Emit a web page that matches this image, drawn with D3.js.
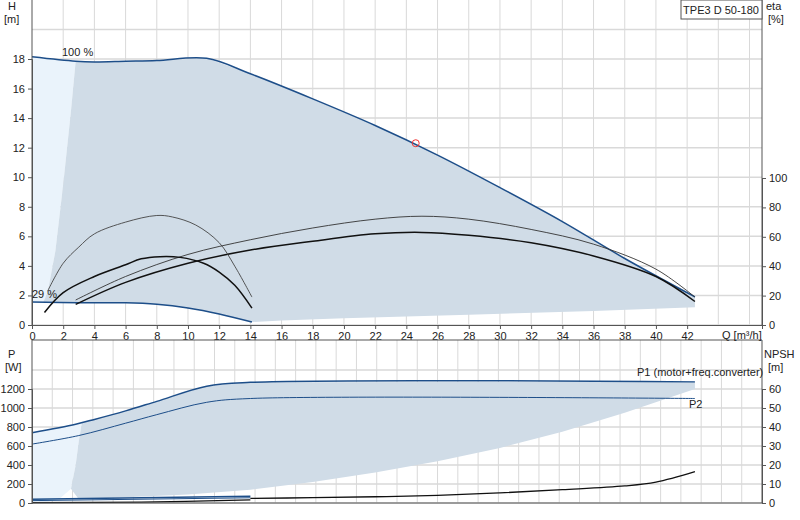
<!DOCTYPE html>
<html><head><meta charset="utf-8">
<script src="https://cdn.jsdelivr.net/npm/d3@7"></script>
<style>body{margin:0;background:#fff}text{font-family:"Liberation Sans",Arial,sans-serif;font-size:11px;fill:#222}</style>
</head><body><div id="chart"></div>
<script>
// head curves [Q, H]
var h100 = [[0,18.15],[2.8,17.85],[4,17.8],[6,17.85],[8,17.9],[11.2,18.05],[14,17],[18,15.3],[22,13.5],[26,11.5],[30,9.3],[34,7],[38,4.5],[42.5,1.9]];
var h29 = [[0,1.55],[3,1.5],[6,1.5],[8,1.4],[10,1.15],[12,0.75],[14.1,0.2]];
var hLower = [[42.5,1.2],[36,0.95],[28,0.7],[20,0.45],[16,0.3],[14.1,0.2]];
var hLeft = [[0.7,1.5],[1,2.2],[1.5,5],[2,9.5],[2.5,14.5],[2.8,17.85]];
var hLight = [[0,18.15],[2.8,17.85],[2.5,14.5],[2,9.5],[1.5,5],[1,2.2],[0.7,1.5],[0,1.55]];
// efficiency curves [Q, eta %]
var etaThin = [[2.8,17],[6,33],[10,48],[14,58],[18,66],[22,72],[25,74],[28,72],[32,65],[36,55],[40,38],[42.5,19]];
var etaThick = [[2.8,14],[6,29],[10,42],[14,51],[18,57],[22,62],[25,63],[28,61],[32,56],[36,47],[40,33],[42.5,16]];
var arcThin = [[1,23],[2,42],[3,53],[4,62],[6,70],[8,74.5],[9,73.5],[10.5,68],[12,56],[13,40],[14.1,19]];
var arcThick = [[0.8,8.5],[2,22],[4,33],[6,41],[7,45],[8.2,46.5],[9.5,46],[11,42],[12,36],[13,27],[14.1,11.5]];
var dutyPoint = [24.6, 12.3];
// power curves [Q, P W]
var p1 = [[0,740],[2.8,830],[4,880],[6,970],[8,1070],[11.2,1230],[14,1270],[42.5,1275]];
var p2 = [[0,620],[3,710],[6,840],[8,930],[11.2,1060],[14,1100],[42.5,1100]];
var p1low = [[0,40],[14,70]];
var p2low = [[0,25],[14,55]];
var pShadeLow = [[42.5,1200],[38,950],[34,750],[30,580],[26,440],[22,320],[18,220],[14,140],[10,90],[6,60],[3,40],[2.5,150],[2.8,400],[3,650],[3.2,845]];
var pLight = [[0,740],[2.8,830],[3.2,845],[3,650],[2.8,400],[2.5,150],[1.8,50],[1,10],[0,0]];
// NPSH [Q, m]
var npsh = [[14,2.4],[18,2.8],[22,3.3],[26,4],[30,5.3],[34,7],[38,9],[40,11],[42.5,16.5]];
var npshLow = [[0,0.2],[7,0.5],[14,1.6]];
var qTicks = d3.range(0, 43, 2);
var hTicks = d3.range(0, 19, 2);
var etaTicks = d3.range(0, 101, 20);
var pTicks = d3.range(0, 1201, 200);
var nTicks = d3.range(0, 61, 10);

var svg = d3.select("#chart").append("svg").attr("width", 800).attr("height", 520);
var x = d3.scaleLinear().domain([0, 46.8]).range([32, 762]);
var yH = d3.scaleLinear().domain([0, 18]).range([325, 59]);
var yE = d3.scaleLinear().domain([0, 100]).range([325, 178]);
var yP = d3.scaleLinear().domain([0, 1200]).range([503, 389]);
var yN = d3.scaleLinear().domain([0, 60]).range([503, 389]);
var blue = "#1d4e89", shade = "#d0dce7", light = "#eaf3fb", grid = "#d9d9d9";

function panel(top, bottom, yTicksPx, step) {
  var g = svg.append("g");
  d3.range(step, 46.8, step).forEach(function (q) {
    g.append("line").attr("x1", x(q)).attr("x2", x(q)).attr("y1", top).attr("y2", bottom).attr("stroke", grid);
  });
  yTicksPx.forEach(function (py) {
    g.append("line").attr("x1", 32).attr("x2", 762).attr("y1", py).attr("y2", py).attr("stroke", grid).attr("stroke-width", 1.5);
  });
  return g;
}
panel(0, 325, hTicks.map(yH).concat([yH(20)]), 2);
panel(340, 503, pTicks.map(yP).concat([yP(1400)]), 1.3);

function line(sy) { return d3.line().x(function (d) { return x(d[0]); }).y(function (d) { return sy(d[1]); }).curve(d3.curveCatmullRom); }
function raw(sy) { return d3.line().x(function (d) { return x(d[0]); }).y(function (d) { return sy(d[1]); }); }

// head shading
svg.append("path").attr("d", raw(yH)(hLight)).attr("fill", light);
var hArea = h100.slice(1).concat(hLower, h29.slice().reverse().filter(function (d) { return d[0] > 0.7; }), hLeft);
svg.append("path").attr("d", raw(yH)(hArea)).attr("fill", shade);
// power shading
svg.append("path").attr("d", raw(yP)(pLight)).attr("fill", light);
svg.append("path").attr("d", raw(yP)([[3.2,845]].concat(p1.filter(function (d) { return d[0] >= 4; }), pShadeLow))).attr("fill", shade);

// curves
function draw(data, sy, color, w) { svg.append("path").attr("d", line(sy)(data)).attr("fill", "none").attr("stroke", color).attr("stroke-width", w); }
draw(h100, yH, blue, 1.5);
draw(h29, yH, blue, 1.5);
draw(etaThin, yE, "#333", 0.9);
draw(etaThick, yE, "#111", 1.5);
draw(arcThin, yE, "#444", 0.9);
draw(arcThick, yE, "#111", 1.5);
draw(p1, yP, blue, 1.5);
draw(p2, yP, blue, 1);
draw(p1low, yP, blue, 1.5);
draw(p2low, yP, blue, 1);
draw(npsh, yN, "#111", 1.3);
draw(npshLow, yN, "#111", 1.3);
svg.append("circle").attr("cx", x(dutyPoint[0])).attr("cy", yH(dutyPoint[1])).attr("r", 3.5).attr("fill", "none").attr("stroke", "#e33");

// axes
function axis(gen, tx, ty) { var g = svg.append("g").attr("transform", "translate(" + tx + "," + ty + ")").call(gen); g.selectAll("text").style("font-size", "11px"); g.select(".domain").attr("stroke", "#555"); g.selectAll(".tick line").attr("stroke", "#555"); return g; }
axis(d3.axisLeft(yH).tickValues(hTicks).tickSize(4), 32, 0);
axis(d3.axisRight(yE).tickValues(etaTicks).tickSize(4), 762, 0);
axis(d3.axisBottom(x).tickValues(qTicks).tickSize(4), 0, 325);
axis(d3.axisLeft(yP).tickValues(pTicks).tickSize(4).tickFormat(d3.format("d")), 32, 0);
axis(d3.axisRight(yN).tickValues(nTicks).tickSize(4), 762, 0);
svg.append("line").attr("x1", 32).attr("x2", 762).attr("y1", 503).attr("y2", 503).attr("stroke", "#555");
svg.append("line").attr("x1", 32).attr("x2", 32).attr("y1", 0).attr("y2", 325).attr("stroke", "#555");
svg.append("line").attr("x1", 762).attr("x2", 762).attr("y1", 0).attr("y2", 325).attr("stroke", "#555");
svg.append("line").attr("x1", 32).attr("x2", 32).attr("y1", 340).attr("y2", 503).attr("stroke", "#555");
svg.append("line").attr("x1", 762).attr("x2", 762).attr("y1", 340).attr("y2", 503).attr("stroke", "#555");
svg.append("line").attr("x1", 32).attr("x2", 762).attr("y1", 340).attr("y2", 340).attr("stroke", "#555");

function txt(s, px, py, anchor) { svg.append("text").attr("x", px).attr("y", py).attr("text-anchor", anchor || "start").text(s); }
txt("H", 8, 10); txt("[m]", 4, 23);
txt("eta", 766, 10); txt("[%]", 768, 23);
txt("P", 8, 358); txt("[W]", 5, 371);
txt("NPSH", 764, 358); txt("[m]", 768, 371);
txt("Q [m³/h]", 722, 339);
txt("100 %", 62, 56);
txt("29 %", 32, 298);
txt("P1 (motor+freq.converter)", 637, 376);
txt("P2", 689, 408);
svg.append("rect").attr("x", 681).attr("y", 0).attr("width", 81).attr("height", 19).attr("fill", "#fff").attr("stroke", "#555");
txt("TPE3 D 50-180", 721, 14, "middle");
</script></body></html>
